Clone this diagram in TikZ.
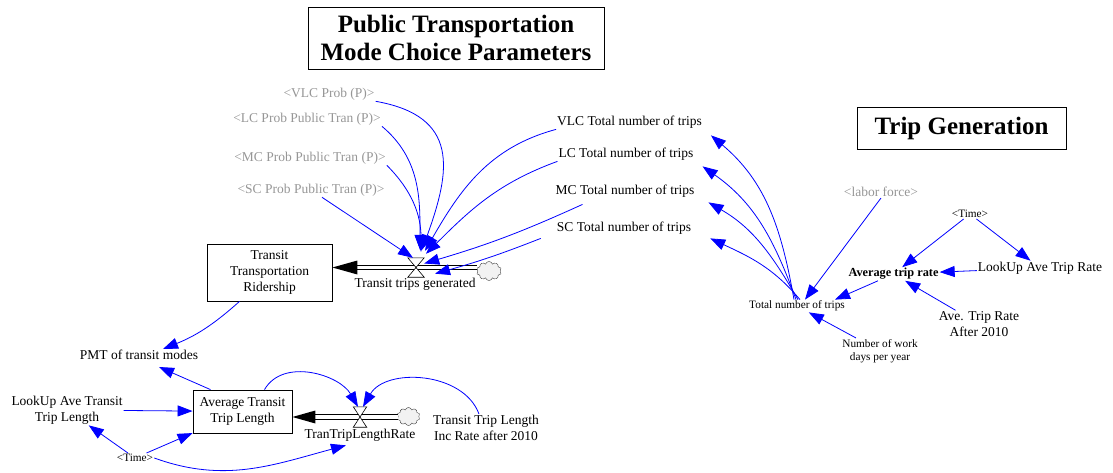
\documentclass[tikz,border=0pt]{standalone}
\usepackage{fontspec}
\setmainfont{Liberation Serif}
\usetikzlibrary{calc, positioning, arrows.meta, shapes.symbols}
\definecolor{ghostgray}{RGB}{150,150,150}
\definecolor{linkblue}{RGB}{0,0,255}

\begin{document}
\begin{tikzpicture}[
    x=1pt, y=1pt,
    font=\fontsize{13.5}{16}\selectfont,
    var/.style={inner sep=1pt, align=center},
    ghost/.style={var, text=ghostgray},
    small/.style={var, font=\fontsize{11.3}{13.3}\selectfont},
    stock/.style={draw, line width=0.8pt, align=center, inner sep=2pt},
    heading/.style={draw, line width=0.8pt, align=center,
                    font=\fontsize{25}{28}\selectfont\bfseries},
    link/.style={linkblue, line width=0.8pt, -{Triangle[length=15pt, width=11pt]}},
    pipe/.style={double=white, double distance=3.6pt, line width=0.8pt},
    valve/.style={minimum width=16pt, minimum height=19pt, inner sep=0pt},
    cloudy/.style={cloud, cloud puffs=10, aspect=1.4, draw=black!75, fill=gray!10,
                   minimum width=25pt, minimum height=19pt, inner sep=0pt},
]
\useasboundingbox (0,0) rectangle (1113,-473);

% ── Headings ─────────────────────────────────────────────────
\node[heading, minimum width=296pt, minimum height=62pt] (ptitle) at (456,-38)
    {Public Transportation\\Mode Choice Parameters};
\node[heading, minimum width=209pt, minimum height=42pt] (tgtitle) at (961.5,-128)
    {Trip Generation};

% ── Mode choice inputs ───────────────────────────────────────
\node[ghost] (vlcprob) at (329,-94) {<VLC Prob (P)>};
\node[ghost] (lcprob) at (307,-119) {<LC Prob Public Tran (P)>};
\node[ghost] (mcprob) at (310,-158) {<MC Prob Public Tran (P)>};
\node[ghost] (scprob) at (311,-190) {<SC Prob Public Tran (P)>};

\node[var] (vlctot) at (629.5,-122) {VLC Total number of trips};
\node[var] (lctot) at (626,-154) {LC Total number of trips};
\node[var] (mctot) at (625,-191) {MC Total number of trips};
\node[var] (sctot) at (624,-228) {SC Total number of trips};

% ── Ridership stock and flow ─────────────────────────────────
\node[stock, minimum width=125pt, minimum height=57pt] (ridership) at (269.5,-272.5)
    {Transit\\Transportation\\Ridership};
\node[valve] (tripvalve) at (416,-267.5) {};
\node[cloudy] (tripcloud) at (489,-271) {};
\node[var] (tripsgen) at (415,-284) {Transit trips generated};

\draw[pipe] (tripcloud.west |- tripvalve) -- ($(ridership.east |- tripvalve)+(25,0)$);
\fill (ridership.east |- tripvalve) -- ++(25,7) -- ++(0,-14) -- cycle;
\draw[fill=white, line width=0.6pt] (tripvalve.north west) -- (tripvalve.north east)
    -- (tripvalve.south west) -- (tripvalve.south east) -- cycle;

\draw[link] (vlcprob.south east) to[out=-10, in=70, looseness=1.4] ([xshift=6,yshift=8]tripvalve.north);
\draw[link] (lcprob.south east) to[out=-40, in=90] ([xshift=4,yshift=8]tripvalve.north);
\draw[link] (mcprob.south east) to[out=-45, in=90] ([xshift=5,yshift=6]tripvalve.north);
\draw[link] (scprob) -- ([xshift=-3]tripvalve.north);
\draw[link] (vlctot.south west) to[out=195, in=60] ([xshift=9,yshift=7]tripvalve.north);
\draw[link] (lctot.south west) to[out=200, in=45] ([xshift=10,yshift=4]tripvalve.north);
\draw[link] ($(mctot.south west)+(28,-6)$) to[bend left=4] ([yshift=4]tripvalve.east);
\draw[link] ($(sctot.south west)+(-15,-3)$) to[bend left=3] ($(tripsgen.north)+(20,3)$);

% ── Trip generation ──────────────────────────────────────────
\node[ghost] (labor) at (881,-192) {<labor force>};
\node[small] (timerate) at (970,-214) {<Time>};
\node[var, font=\fontsize{12.3}{14}\selectfont\bfseries] (avgrate) at (893.5,-274) {Average trip rate};
\node[var] (lookuprate) at (1040,-268) {LookUp Ave Trip Rate};
\node[var] (rate2010) at (979,-324) {Ave. Trip Rate\\After 2010};
\node[small] (totaltrips) at (797,-306) {Total number of trips};
\node[small] (workdays) at (880,-351) {Number of work\\days per year};

\draw[link] ([xshift=-3]totaltrips.north) to[out=100, in=-40] ([shift={(8,-6)}]vlctot.south east);
\draw[link] ([xshift=-1]totaltrips.north) to[out=110, in=-35] ([shift={(8,-5)}]lctot.south east);
\draw[link] ([xshift=1]totaltrips.north) to[out=120, in=-30] ([shift={(13,-4)}]mctot.south east);
\draw[link] ([xshift=3]totaltrips.north) to[out=130, in=-25] ([shift={(18,-3)}]sctot.south east);

\draw[link] (labor.south) -- ([xshift=8]totaltrips.north);
\draw[link] (timerate) -- (avgrate);
\draw[link] (timerate) -- (lookuprate);
\draw[link] (lookuprate) -- (avgrate);
\draw[link] (rate2010) -- (avgrate);
\draw[link] (avgrate) -- ([xshift=38]totaltrips.north);
\draw[link] (workdays) -- (totaltrips);

% ── Transit trip length ──────────────────────────────────────
\node[var] (pmt) at (139,-355) {PMT of transit modes};
\node[stock, minimum width=99pt, minimum height=43pt] (avglen) at (242.5,-411.5)
    {Average Transit\\Trip Length};
\node[valve, minimum width=13pt, minimum height=20pt] (lenvalve) at (360,-417) {};
\node[cloudy, minimum width=23pt, minimum height=18pt] (lencloud) at (408.5,-416.5) {};
\node[var] (lenrate) at (360,-435) {TranTripLengthRate};
\node[var] (leninc) at (486,-428) {Transit Trip Length\\Inc Rate after 2010};
\node[var] (lookuplen) at (67,-410) {LookUp Ave Transit\\Trip Length};
\node[small] (timelen) at (135,-458) {<Time>};

\draw[pipe] (lencloud.west |- lenvalve) -- ($(avglen.east |- lenvalve)+(23,0)$);
\fill (avglen.east |- lenvalve) -- ++(23,6.5) -- ++(0,-13) -- cycle;
\draw[fill=white, line width=0.6pt] (lenvalve.north west) -- (lenvalve.north east)
    -- (lenvalve.south west) -- (lenvalve.south east) -- cycle;

\draw[link] ([xshift=-30]ridership.south) to[bend left=10] ([xshift=24]pmt.north);
\draw[link] ([xshift=-32]avglen.north) -- ($(pmt.south)+(20,-6)$);
\draw[link] (lookuplen) -- (avglen);
\draw[link] (timelen) -- (lookuplen);
\draw[link] (timelen) -- (avglen);
\draw[link] (timelen.east) to[out=-20, in=195] ([shift={(-14,-3)}]lenrate.south);
\draw[link] ([xshift=22]avglen.north) to[out=60, in=120] ([xshift=-2]lenvalve.north);
\draw[link] ([xshift=-7]leninc.north) to[out=110, in=60] ([xshift=3]lenvalve.north);

\end{tikzpicture}
\end{document}
